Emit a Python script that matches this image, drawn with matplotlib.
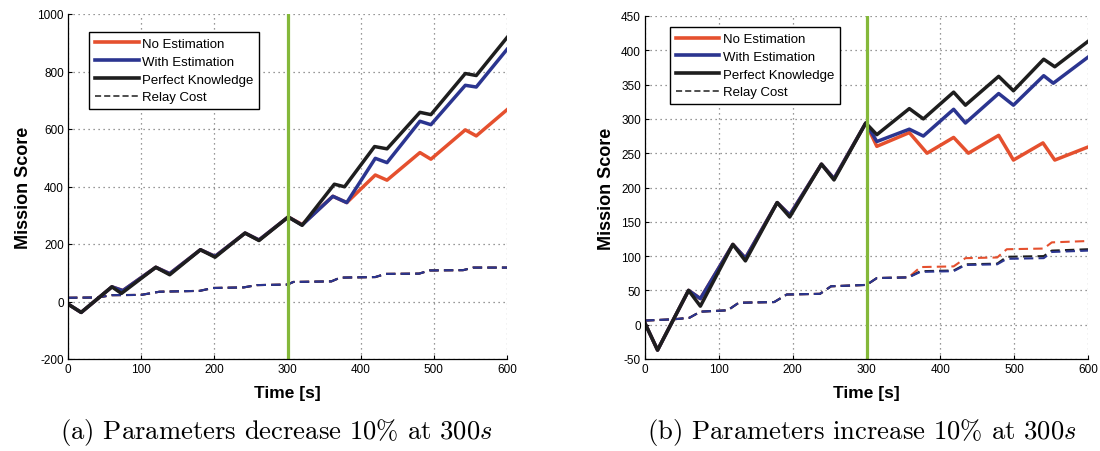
import matplotlib
matplotlib.use("Agg")
import matplotlib.pyplot as plt
from matplotlib.lines import Line2D

plt.rcParams["font.family"] = ["Liberation Sans", "DejaVu Sans"]
plt.rcParams["axes.unicode_minus"] = False
plt.rcParams["mathtext.fontset"] = "cm"

RED = "#e5502e"
BLUE = "#2b3590"
BLACK = "#1e1e1e"
GREEN = "#84b83a"

# ---- (a) parameters decrease 10% at 300s ----
a_black_t = [0, 18, 60, 73, 120, 139, 181, 201, 242, 261, 301, 320, 364, 378, 419, 436, 481, 496, 543, 558, 600]
a_black_v = [-9, -38, 51, 28, 119, 93, 180, 154, 238, 212, 294, 265, 408, 399, 539, 531, 658, 650, 793, 786, 918]
a_blue_t = [0, 18, 60, 75, 120, 139, 181, 201, 242, 261, 301, 320, 362, 381, 420, 436, 481, 496, 543, 558, 600]
a_blue_v = [-9, -38, 51, 38, 119, 97, 180, 157, 238, 214, 294, 266, 366, 344, 498, 483, 627, 615, 752, 746, 877]
a_red_t = [0, 18, 60, 75, 120, 139, 181, 201, 242, 261, 301, 320, 362, 381, 420, 436, 481, 496, 543, 558, 600]
a_red_v = [-9, -38, 51, 38, 119, 97, 180, 157, 238, 214, 294, 268, 366, 344, 440, 422, 518, 495, 597, 576, 667]
a_relay_t = [0, 40, 60, 100, 125, 180, 198, 240, 258, 300, 308, 360, 372, 420, 434, 480, 494, 540, 554, 600]
a_relay_v = [13, 14, 22, 23, 34, 37, 47, 49, 57, 59, 68, 70, 83, 85, 96, 97, 108, 109, 118, 118]

# ---- (b) parameters increase 10% at 300s ----
b_black_t = [0, 17, 59, 75, 119, 136, 179, 196, 239, 256, 299, 314, 358, 377, 418, 434, 479, 499, 540, 555, 600]
b_black_v = [2, -37, 50, 27, 117, 93, 178, 157, 234, 211, 294, 277, 315, 300, 339, 320, 362, 341, 387, 376, 413]
b_blue_t = [0, 17, 59, 75, 119, 136, 179, 196, 239, 256, 299, 314, 358, 377, 418, 434, 479, 499, 540, 553, 600]
b_blue_v = [2, -37, 50, 38, 117, 97, 178, 160, 234, 213, 294, 267, 285, 275, 314, 294, 337, 320, 363, 352, 390]
b_red_t = [0, 17, 59, 75, 119, 136, 179, 196, 239, 256, 299, 314, 358, 382, 418, 438, 479, 499, 539, 555, 600]
b_red_v = [2, -37, 50, 38, 117, 97, 178, 160, 234, 213, 294, 260, 280, 250, 273, 250, 276, 240, 265, 240, 259]
b_relay_t = [0, 40, 60, 75, 112, 127, 175, 192, 237, 252, 300, 314, 357, 373, 418, 434, 477, 490, 540, 551, 600]
b_relay_red = [6, 8, 10, 19, 21, 32, 33, 44, 45, 56, 58, 68, 69, 84, 85, 97, 98, 110, 111, 120, 122]
b_relay_blue = [6, 8, 10, 19, 21, 32, 33, 44, 45, 56, 58, 68, 69, 77, 78, 87, 88, 96, 97, 106, 108]
b_relay_black = [6, 8, 10, 19, 21, 32, 33, 44, 45, 56, 58, 68, 69, 78, 79, 88, 89, 99, 100, 108, 110]

change_t = 300
labels = ["No Estimation", "With Estimation", "Perfect Knowledge", "Relay Cost"]

fig = plt.figure(figsize=(11, 4.52), dpi=100)
ax1 = fig.add_axes([68 / 1100, 1 - 360 / 452, 439 / 1100, 345 / 452])
ax2 = fig.add_axes([645 / 1100, 1 - 360 / 452, 443 / 1100, 343 / 452])

dash = (0, (4.5, 2.5))


def style(ax, ylim, ystep):
    ax.set_xlim(0, 600)
    ax.set_ylim(*ylim)
    ax.set_xticks(range(0, 601, 100))
    ax.set_yticks(range(ylim[0], ylim[1] + 1, ystep))
    ax.grid(True, linestyle=(0, (1, 3)), color="#777777", linewidth=0.9)
    ax.set_axisbelow(True)
    for s in ["top", "right"]:
        ax.spines[s].set_visible(False)
    for s in ["left", "bottom"]:
        ax.spines[s].set_linewidth(0.9)
    ax.tick_params(direction="in", length=3, width=0.8, labelsize=8.5, pad=3)
    ax.set_xlabel("Time [s]", fontsize=12.5, fontweight="bold", labelpad=7)
    ax.set_ylabel("Mission Score", fontsize=13, fontweight="bold", labelpad=4)
    handles = [
        Line2D([], [], color=RED, lw=2.6),
        Line2D([], [], color=BLUE, lw=2.6),
        Line2D([], [], color=BLACK, lw=2.6),
        Line2D([], [], color=BLACK, lw=1.1, linestyle=(0, (4, 2))),
    ]
    return handles


# left panel
ax1.plot(a_relay_t, a_relay_v, color=RED, lw=1.5, linestyle=dash)
ax1.plot(a_relay_t, a_relay_v, color=BLACK, lw=1.5, linestyle=dash)
ax1.plot(a_relay_t, a_relay_v, color=BLUE, lw=1.5, linestyle=dash)
ax1.plot(a_red_t, a_red_v, color=RED, lw=2.5)
ax1.plot(a_blue_t, a_blue_v, color=BLUE, lw=2.5)
ax1.plot(a_black_t, a_black_v, color=BLACK, lw=2.5)
ax1.axvline(change_t, color=GREEN, lw=2.3)
h = style(ax1, (-200, 1000), 200)
ax1.legend(h, labels, loc="upper left", bbox_to_anchor=(0.048, 0.948), fontsize=9.5,
           frameon=True, fancybox=False, edgecolor="black", framealpha=1,
           handlelength=3.3, handletextpad=0.25, labelspacing=0.42, borderpad=0.45,
           borderaxespad=0)

# right panel
ax2.plot(b_relay_t, b_relay_red, color=RED, lw=1.5, linestyle=dash)
ax2.plot(b_relay_t, b_relay_black, color=BLACK, lw=1.5, linestyle=dash)
ax2.plot(b_relay_t, b_relay_blue, color=BLUE, lw=1.5, linestyle=dash)
ax2.plot(b_red_t, b_red_v, color=RED, lw=2.5)
ax2.plot(b_blue_t, b_blue_v, color=BLUE, lw=2.5)
ax2.plot(b_black_t, b_black_v, color=BLACK, lw=2.5)
ax2.axvline(change_t, color=GREEN, lw=2.3)
h = style(ax2, (-50, 450), 50)
ax2.legend(h, labels, loc="upper left", bbox_to_anchor=(0.056, 0.968), fontsize=9.5,
           frameon=True, fancybox=False, edgecolor="black", framealpha=1,
           handlelength=3.3, handletextpad=0.25, labelspacing=0.42, borderpad=0.45,
           borderaxespad=0)

fig.text(276 / 1100, 1 - 433 / 452, r"(a) Parameters decrease 10% at 300$s$",
         family="cmr10", fontsize=19.2, ha="center", va="center")
fig.text(862 / 1100, 1 - 433 / 452, r"(b) Parameters increase 10% at 300$s$",
         family="cmr10", fontsize=19.2, ha="center", va="center")

fig.savefig("out.png", dpi=100)
